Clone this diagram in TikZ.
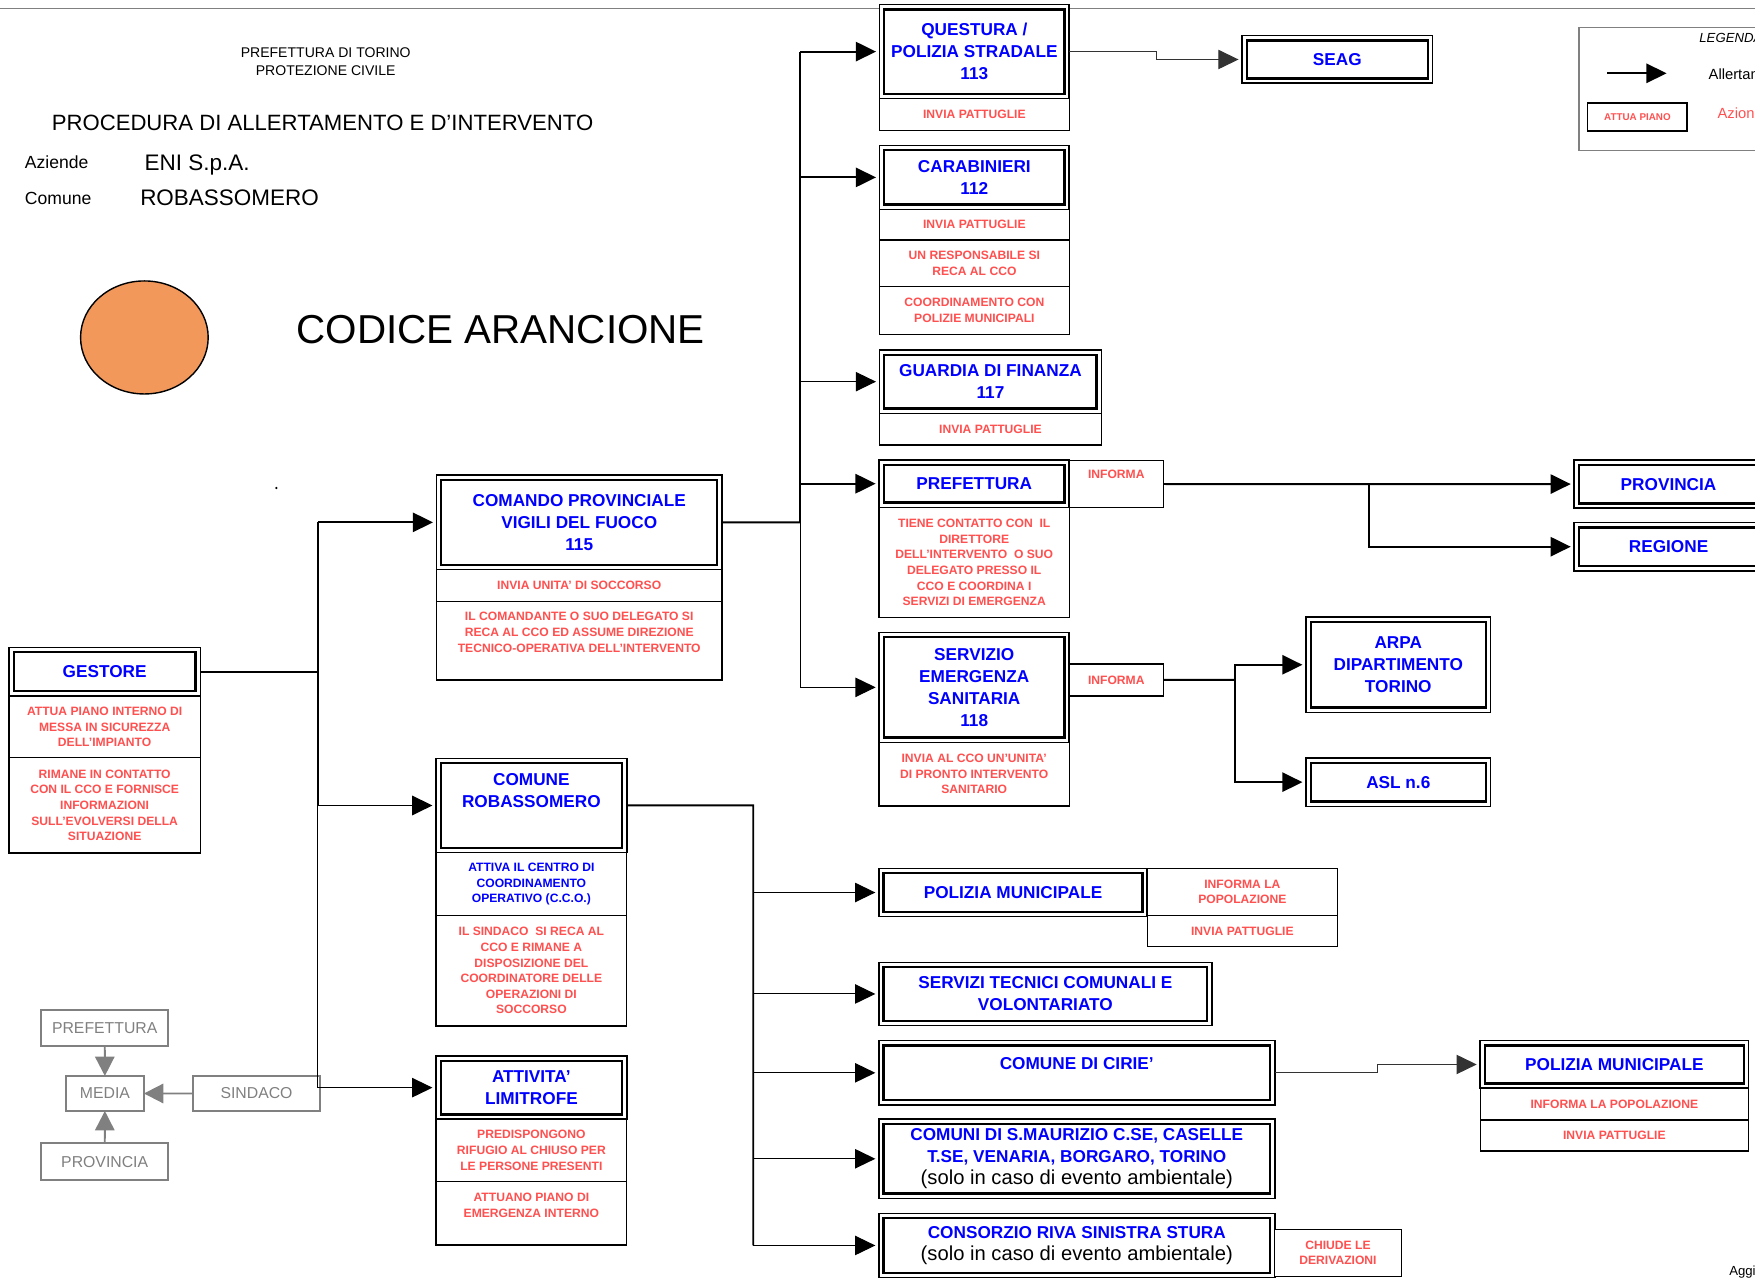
\documentclass[tikz,border=0pt]{standalone}
\usepackage{fontspec}
\setmainfont{Liberation Sans}
\usetikzlibrary{arrows.meta,
	calc,
	positioning}
\definecolor{blu}{RGB}{0,0,255}
\definecolor{rosso}{RGB}{255,80,80}
\definecolor{grigio}{RGB}{128,128,128}
\definecolor{arancio}{RGB}{243,152,91}
\newcommand{\upx}{0.0224cm}
\tikzset{
	sz/.style 2 args={minimum width=#1*\upx, minimum height=#2*\upx},
	ente/.style={draw, line width=0.9pt, fill=white, anchor=north west,
			inner sep=0pt, outer sep=0pt, align=center, text=blu,
			font=\bfseries\fontsize{9.8}{12.5}\selectfont,
			path picture={
					\draw[line width=1.3pt]
					([shift={(2.7pt,-2.7pt)}]path picture bounding box.north west) rectangle
					([shift={(-2.7pt,2.7pt)}]path picture bounding box.south east);
				}},
	entetxt/.style={inner sep=0pt, align=center, text=blu,
			font=\bfseries\fontsize{9.8}{12.5}\selectfont},
	azione/.style={draw, line width=0.8pt, fill=white, anchor=north west,
			inner sep=0pt, outer sep=0pt, align=center, text=rosso,
			font=\bfseries\fontsize{6.9}{8.9}\selectfont},
	azionetxt/.style={inner sep=0pt, align=center, text=rosso,
			font=\bfseries\fontsize{6.9}{8.9}\selectfont},
	media box/.style={draw=grigio, line width=1.1pt, fill=white, anchor=north west,
			inner sep=0pt, outer sep=0pt, text=grigio,
			font=\fontsize{9}{11}\selectfont},
	titolo/.style={anchor=base west, inner sep=0pt},
	link/.style={line width=1.1pt},
	linkthin/.style={line width=0.6pt},
	arr/.style={-{Triangle[length=11.5pt,width=11pt]}, line width=1.1pt, shorten >=2pt},
	arrthin/.style={arr, line width=0.6pt},
	grigioarr/.style={-{Triangle[length=11pt,width=11pt]}, draw=grigio, line width=1.1pt},
	solo/.style={font=\mdseries\fontsize{11.5}{13}\selectfont, text=black}
}

\begin{document}
\begin{tikzpicture}[x=0.0224cm, y=-0.0224cm]
	\useasboundingbox (0,0) rectangle (1568,1146);
	\clip (0,0) rectangle (1568,1146);
	\draw[grigio, line width=0.9pt] (0,7.5) -- (1568,7.5);

	\node[align=center, inner sep=0pt, font=\fontsize{8}{10.2}\selectfont] (prefettura0) at (291,55.3) {PREFETTURA DI TORINO\\PROTEZIONE CIVILE};
	\node[titolo, font=\fontsize{12.6}{15}\selectfont] (procedura) at (46,117) {PROCEDURA DI ALLERTAMENTO E D'INTERVENTO};
	\node[titolo, font=\fontsize{10}{12}\selectfont] (aziende) at (22,150.4) {Aziende};
	\node[titolo, font=\fontsize{12.8}{15}\selectfont] (ditta) at (129,151.9) {ENI S.p.A.};
	\node[titolo, font=\fontsize{10}{12}\selectfont] (comunelbl) at (22,182.3) {Comune};
	\node[titolo, font=\fontsize{12.8}{15}\selectfont] (comunenome) at (125,183.2) {ROBASSOMERO};
	\draw[fill=arancio, line width=0.8pt] (129,301.5) ellipse (1.277cm and 1.131cm);
	\node[titolo, font=\fontsize{23}{27}\selectfont] (codice) at (264.6,306.8) {CODICE ARANCIONE};
	\fill (247,436) circle (0.7pt);

	\node[draw=grigio, line width=0.8pt, anchor=north west, inner sep=0pt, sz={200}{110.2}] (legenda) at (1410,23.8) {};
	\node[titolo, font=\itshape\fontsize{7.5}{9}\selectfont] (legendat) at (1518,37.8) {LEGENDA};
	\coordinate (lga) at (1436,65.5);
	\coordinate (lgb) at (1489,65.5);
	\draw[arr, shorten >=0pt] (lga) -- (lgb);
	\node[titolo, font=\fontsize{8.4}{10}\selectfont] (allerta) at (1526.3,70.6) {Allertamento};
	\node[azione, draw=black, line width=1pt, sz={89.1}{25.1}, font=\bfseries\fontsize{5.6}{7}\selectfont] (esempio) at (1418.4,91.7) {ATTUA PIANO};
	\node[titolo, text=rosso, font=\fontsize{8.4}{10}\selectfont] (azionelbl) at (1534.3,105.7) {Azione};
	\node[titolo, font=\fontsize{7.5}{9}\selectfont] (aggiornato) at (1544.7,1140) {Aggiornamento};

	\node[ente, sz={171}{43.2}] (gestore) at (8,578.6) {GESTORE};
	\node[azione, sz={171}{55.2}] (gestorea) at (8,621.8) {ATTUA PIANO INTERNO DI\\MESSA IN SICUREZZA\\DELL'IMPIANTO};
	\node[azione, sz={171}{85}] (gestoreb) at (8,677) {RIMANE IN CONTATTO\\CON IL CCO E FORNISCE\\INFORMAZIONI\\SULL'EVOLVERSI DELLA\\SITUAZIONE};

	\node[ente, sz={255}{84.6}] (comando) at (390,424.4) {COMANDO PROVINCIALE\\VIGILI DEL FUOCO\\115};
	\node[azione, sz={255}{28.5}] (comandoa) at (390,509) {INVIA UNITA' DI SOCCORSO};
	\node[azione, sz={255}{70}] (comandob) at (390,537.5) {};
	\node[azionetxt, yshift=4.8pt] (comandobt) at (comandob) {IL COMANDANTE O SUO DELEGATO SI\\RECA AL CCO ED ASSUME DIREZIONE\\TECNICO-OPERATIVA DELL'INTERVENTO};

	\node[ente, sz={170.5}{84.3}] (comune) at (389.5,677.5) {};
	\node[entetxt, yshift=8.3pt] (comunet) at (comune) {COMUNE\\ROBASSOMERO};
	\node[azione, text=blu, sz={170.5}{56.2}] (comunea) at (389.5,761.8) {ATTIVA IL CENTRO DI\\COORDINAMENTO\\OPERATIVO (C.C.O.)};
	\node[azione, sz={170.5}{98.6}] (comuneb) at (389.5,818) {IL SINDACO\ \ SI RECA AL\\CCO E RIMANE A\\DISPOSIZIONE DEL\\COORDINATORE DELLE\\OPERAZIONI DI\\SOCCORSO};

	\node[ente, sz={170.5}{56.5}] (attivita) at (389.5,943.5) {ATTIVITA'\\LIMITROFE};
	\node[azione, sz={170.5}{55.7}] (attivitaa) at (389.5,1000) {PREDISPONGONO\\RIFUGIO AL CHIUSO PER\\LE PERSONE PRESENTI};
	\node[azione, sz={170.5}{56.6}] (attivitab) at (389.5,1055.7) {};
	\node[azionetxt, yshift=4.5pt] (attivitabt) at (attivitab) {ATTUANO PIANO DI\\EMERGENZA INTERNO};

	\node[media box, sz={113.5}{31.8}] (mprefettura) at (36.8,902.4) {PREFETTURA};
	\node[media box, sz={69.7}{31.3}] (media) at (58.9,961.3) {MEDIA};
	\node[media box, sz={113.6}{32}] (sindaco) at (172.4,961) {SINDACO};
	\node[media box, sz={113.5}{32.7}] (mprovincia) at (36.8,1021.5) {PROVINCIA};

	\node[ente, sz={169.5}{83.8}] (questura) at (785.8,4.2) {QUESTURA /\\POLIZIA STRADALE\\113};
	\node[azione, sz={169.5}{28.8}] (questuraa) at (785.8,88) {INVIA PATTUGLIE};
	\node[ente, sz={170.3}{42.5}] (seag) at (1109.7,31.9) {SEAG};

	\node[ente, sz={169.5}{57}] (carabinieri) at (785.8,130) {CARABINIERI\\112};
	\node[azione, sz={169.5}{27.4}] (carabinieria) at (785.8,187) {INVIA PATTUGLIE};
	\node[azione, sz={169.5}{41.6}] (carabinierib) at (785.8,214.4) {UN RESPONSABILE SI\\RECA AL CCO};
	\node[azione, sz={169.5}{42.7}] (carabinieric) at (785.8,256) {COORDINAMENTO CON\\POLIZIE MUNICIPALI};

	\node[ente, sz={198.2}{56.6}] (finanza) at (785.8,312.7) {GUARDIA DI FINANZA\\117};
	\node[azione, sz={198.2}{28.3}] (finanzaa) at (785.8,369.3) {INVIA PATTUGLIE};

	\node[ente, sz={169.8}{42.3}] (prefettura) at (785.5,411) {PREFETTURA};
	\node[azione, sz={169.8}{98.5}] (prefetturaa) at (785.5,453.3) {TIENE CONTATTO CON\ \ IL\\DIRETTORE\\DELL'INTERVENTO\ \ O SUO\\DELEGATO PRESSO IL\\CCO E COORDINA I\\SERVIZI DI EMERGENZA};
	\node[azione, sz={84.1}{41.7}] (informa) at (955.3,411.6) {};
	\node[azionetxt, yshift=5.5pt] (informat) at (informa) {INFORMA};
	\node[ente, sz={168.5}{43}] (provincia) at (1406.5,411) {PROVINCIA};
	\node[ente, sz={168.5}{42.9}] (regione) at (1406.5,467) {REGIONE};

	\node[ente, sz={169.8}{98.2}] (sanitaria) at (785.5,565) {SERVIZIO\\EMERGENZA\\SANITARIA\\118};
	\node[azione, sz={169.8}{56.8}] (sanitariaa) at (785.5,663.2) {INVIA AL CCO UN'UNITA'\\DI PRONTO INTERVENTO\\SANITARIO};
	\node[azione, sz={84.1}{28.6}] (informab) at (955.3,593.2) {INFORMA};
	\node[ente, sz={165}{84.9}] (arpa) at (1166.8,551.5) {ARPA\\DIPARTIMENTO\\TORINO};
	\node[ente, sz={165}{43.2}] (asl) at (1166.8,677.2) {ASL n.6};

	\node[ente, sz={239.8}{43.2}] (polizia) at (785.2,775.8) {POLIZIA MUNICIPALE};
	\node[azione, sz={170}{42.2}] (poliziaa) at (1025,775.8) {INFORMA LA\\POPOLAZIONE};
	\node[azione, sz={170}{27.8}] (poliziab) at (1025,818) {INVIA PATTUGLIE};
	\node[ente, sz={297.5}{56.5}] (tecnici) at (785.2,859.8) {SERVIZI TECNICI COMUNALI E\\VOLONTARIATO};
	\node[ente, sz={353.7}{57.4}] (cirie) at (785.2,929.8) {};
	\node[entetxt, yshift=5.4pt] (ciriet) at (cirie) {COMUNE DI CIRIE'};
	\node[ente, sz={239.7}{42.5}] (poliziacirie) at (1322.5,929.8) {POLIZIA MUNICIPALE};
	\node[azione, sz={239.7}{28.3}] (poliziaciriea) at (1322.5,972.3) {INFORMA LA POPOLAZIONE};
	\node[azione, sz={239.7}{27.7}] (poliziacirieb) at (1322.5,1000.6) {INVIA PATTUGLIE};
	\node[ente, sz={353.7}{70.6}] (comuni) at (785.2,1000) {COMUNI DI S.MAURIZIO C.SE, CASELLE\\T.SE, VENARIA, BORGARO, TORINO\\{\mdseries\color{black}\fontsize{11.5}{13}\selectfont (solo in caso di evento ambientale)}};
	\node[ente, sz={353.7}{57.5}] (consorzio) at (785.2,1084) {CONSORZIO RIVA SINISTRA STURA\\{\mdseries\color{black}\fontsize{11.5}{13}\selectfont (solo in caso di evento ambientale)}};
	\node[azione, sz={113}{42.3}] (consorzioa) at (1138.9,1098.3) {CHIUDE LE\\DERIVAZIONI};

	\coordinate (tr1) at (284,600.2);
	\draw[link] (gestore) -- (tr1);
	\draw[link] (tr1 |- comando) -- (tr1 |- comune);
	\draw[linkthin] (tr1 |- comune) -- (tr1 |- attivita);
	\draw[arr] (tr1 |- comando) -- (comando);
	\draw[arr] (tr1 |- comune) -- (comune);
	\draw[arrthin] (tr1 |- attivita) -- (attivita);

	\draw[grigioarr] (mprefettura) -- (media);
	\draw[grigioarr] (mprovincia) -- (media);
	\draw[grigioarr] (sindaco) -- (media);

	\coordinate (tr2) at (715,466.7);
	\draw[link] (comando) -- (tr2);
	\draw[link] (tr2 |- questura) -- (tr2);
	\draw[linkthin] (tr2) -- (tr2 |- sanitaria);
	\draw[arr] (tr2 |- questura) -- (questura);
	\draw[arr] (tr2 |- carabinieri) -- (carabinieri);
	\draw[arrthin] (tr2 |- finanza) -- (finanza);
	\draw[arr] (tr2 |- prefettura) -- (prefettura);
	\draw[arrthin] (tr2 |- sanitaria) -- (sanitaria);
	\draw[arrthin, black!80] (questura.east) -- ++(78,0) |- (seag);

	\draw[arr] (informa) -- (provincia);
	\coordinate (br1) at (1223.5,432.5);
	\draw[arr] (br1) |- (regione);

	\coordinate (br2) at (1103.4,607.5);
	\draw[link] (informab) -- (br2);
	\draw[arr] (br2) |- (arpa);
	\draw[arr] (br2) |- (asl);

	\coordinate (tr3) at (673,719.6);
	\draw[link] (comune) -- (tr3) -- (tr3 |- consorzio);
	\draw[arrthin] (tr3 |- polizia) -- (polizia);
	\draw[arrthin] (tr3 |- tecnici) -- (tecnici);
	\draw[arrthin] (tr3 |- cirie) -- (cirie);
	\draw[arrthin] (tr3 |- comuni) -- (comuni);
	\draw[arrthin] (tr3 |- consorzio) -- (consorzio);
	\draw[arrthin, black!80] (cirie.east) -- ++(92,0) |- (poliziacirie);
\end{tikzpicture}
\end{document}
